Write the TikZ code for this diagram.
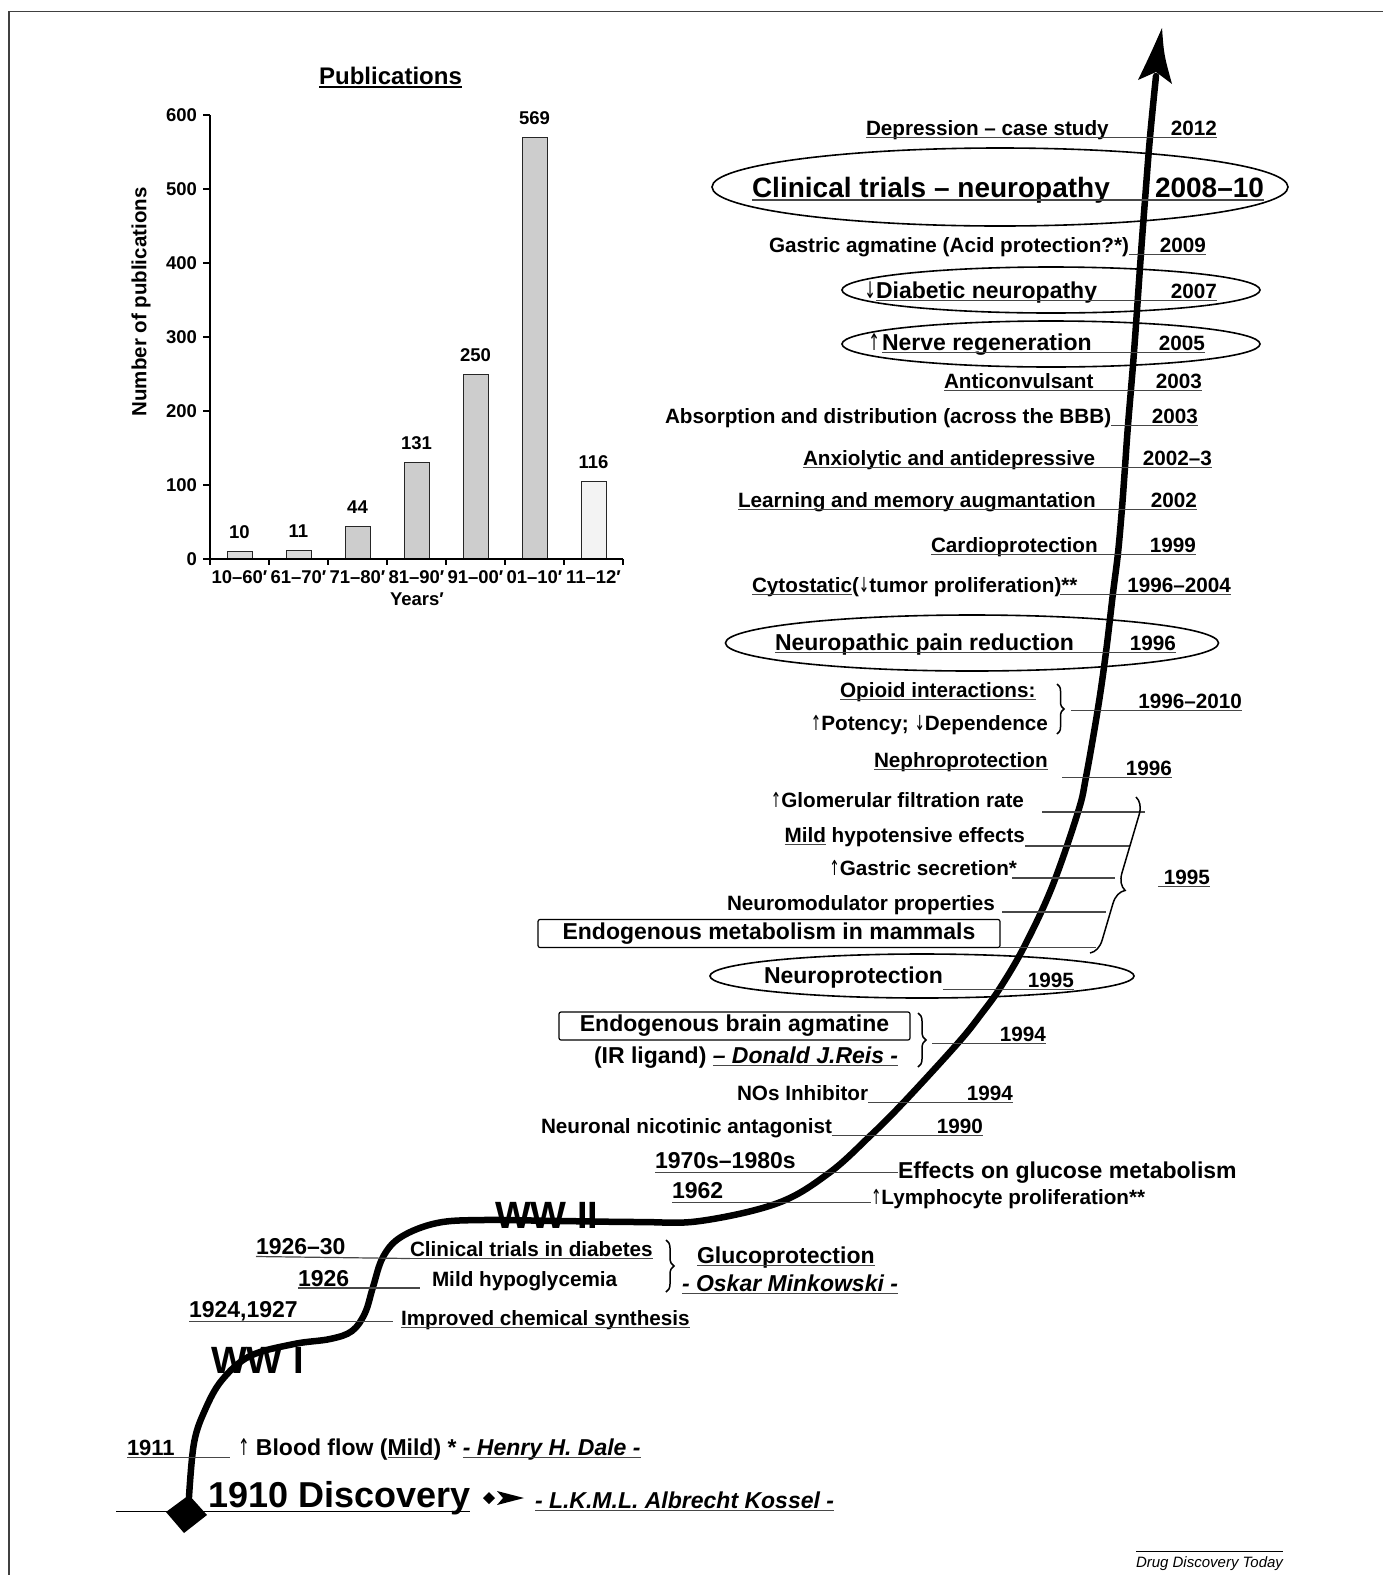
\documentclass[tikz,border=0pt]{standalone}
\usepackage{fontspec}
\setmainfont{Liberation Sans}
\newfontfamily\arrf{DejaVu Sans}
\usetikzlibrary{shapes.geometric,decorations.pathreplacing}
\definecolor{barA}{HTML}{DADADA}
\definecolor{barB}{HTML}{CDCDCD}
\definecolor{barC}{HTML}{F3F3F3}
\newcommand\upar{\scalebox{0.6}[1]{\arrf\mdseries ↑}}
\newcommand\dnar{\scalebox{0.6}[1]{\arrf\mdseries ↓}}
\begin{document}
\begin{tikzpicture}[x=1pt,y=-1pt,
  every node/.style={inner sep=0pt, outer sep=0pt},
  fA/.style={font=\fontsize{20.7}{24}\selectfont\bfseries},
  fB/.style={font=\fontsize{23}{27}\selectfont\bfseries},
  fC/.style={font=\fontsize{28}{32}\selectfont\bfseries},
  fI/.style={font=\fontsize{23}{27}\selectfont\bfseries\itshape},
  fW/.style={font=\fontsize{38}{42}\selectfont\bfseries},
  fD/.style={font=\fontsize{36}{40}\selectfont\bfseries},
  fT/.style={font=\fontsize{18.5}{22}\selectfont\bfseries},
  ul/.style={line width=1.2pt, draw=black!72},
  ring/.style={draw, ellipse, line width=1.6pt},
  lab/.style={anchor=base west}, yr/.style={anchor=base east},
  brc/.style={decorate, line width=1.5pt},
]
\useasboundingbox (0,0) rectangle (1383,1575);
\fill[white] (0,0) rectangle (1383,1575);
% frame
\draw[line width=1.3pt, black!75] (9,1575) -- (9,11.5) -- (1383,11.5);

% ================= bar chart =================
\node[font=\fontsize{24}{28}\selectfont\bfseries, anchor=base] (ptitle) at (390.5,84.5) {Publications};
\draw[ul, black] ([yshift=-2.5pt]ptitle.base west) -- ([yshift=-2.5pt]ptitle.base east);
\foreach \i/\v/\h/\c/\xl in {0/10/10/barA/{10–60′}, 1/11/11/barA/{61–70′}, 2/44/44/barB/{71–80′}, 3/131/131/barB/{81–90′}, 4/250/250/barB/{91–00′}, 5/569/569/barB/{01–10′}, 6/116/105/barC/{11–12′}}
{
  \filldraw[fill=\c, draw=black!85, line width=1pt] ({227+59*\i},559) rectangle ({252+59*\i},{559-0.74*\h});
  \node[fT, anchor=base] (bv\i) at ({239.5+59*\i},{546-0.74*\h}) {\v};
  \node[fT, anchor=base] (bx\i) at ({239.5+59*\i},583) {\xl};
}
\foreach \v in {0,100,...,600}
{
  \draw[line width=1.2pt] (203,{559-0.74*\v}) -- (210,{559-0.74*\v});
  \node[fT, anchor=east] (yt\v) at (197,{559-0.74*\v}) {\v};
}
\foreach \i in {0,...,7} \draw[line width=1.2pt] ({210+59*\i},559) -- ({210+59*\i},565);
\draw[line width=1.2pt] (210,115) -- (210,559) -- (623,559);
\node[fT, anchor=base] (yrs) at (417,605) {Years′};
\node[font=\fontsize{20.5}{24}\selectfont\bfseries, rotate=90] (ylab) at (141,302) {Number of publications};

% ================= timeline curve =================
\draw[line width=6.5pt, line cap=round, line join=round] plot[smooth, tension=0.6] coordinates {(189,1497) (194,1443) (205,1410) (222,1380) (250,1356) (294,1344) (330,1339) (352,1331) (365,1313) (373,1287) (383,1257) (401,1237) (437,1223) (483,1220) (560,1221) (640,1222) (700,1221) (778,1203) (829,1173) (870,1136) (903,1103) (958,1043) (982,1013) (1000,988) (1024,947) (1052,887) (1078,812) (1086,777) (1098,708) (1106,652) (1113,593) (1118,553) (1122,508) (1125,467) (1128,425) (1134,352) (1141,253) (1145,200) (1150,137) (1156,76)};
\fill (1162,28) .. controls (1164,55) .. (1172,84) -- (1156,72) -- (1138,80) .. controls (1150,55) .. (1162,28) -- cycle;
\fill (166,1512) -- (189,1495) -- (207,1515) -- (184,1533) -- cycle;

% helper positions
\coordinate (x1071) at (1071,0);
\coordinate (x1062) at (1062,0);
\coordinate (x1158) at (1158,0);
\coordinate (x932) at (932,0);
\coordinate (x116) at (116,0);
\coordinate (y1551) at (0,1551);

% ================= labels =================
% 2012
\node[fA, lab] (t1) at (866,135) {Depression – case study};
\node[fA, yr] (y1) at (1217,135) {2012};
\draw[ul] ([yshift=-2.5pt]t1.base west) -- ([yshift=-2.5pt]y1.base east);
% 2008-10
\node[ring, minimum width=576pt, minimum height=78pt] (e2) at (1000,187) {};
\node[fC, lab] (t2) at (752,197) {Clinical trials – neuropathy};
\node[fC, yr] (y2) at (1264,197) {2008–10};
\draw[ul] ([yshift=-3pt]t2.base west) -- ([yshift=-3pt]y2.base east);
% 2009
\node[fA, lab] (t3) at (769,252) {Gastric agmatine (Acid protection?*)};
\node[fA, yr] (y3) at (1206,252) {2009};
\draw[ul] ([yshift=-2.5pt]t3.base east) -- ([yshift=-2.5pt]y3.base east);
% 2007
\node[ring, minimum width=418pt, minimum height=46pt] (e4) at (1051,290) {};
\node[fB, lab] (t4) at (876,298) {Diabetic neuropathy};
\node[fB, anchor=base east] (a4) at ([xshift=0pt]t4.base west) {\dnar};
\node[fA, yr] (y4) at (1217,298) {2007};
\draw[ul] ([yshift=-2.5pt]t4.base west) -- ([yshift=-2.5pt]y4.base east);
% 2005
\node[ring, minimum width=418pt, minimum height=46pt] (e5) at (1051,344) {};
\node[fB, lab] (t5) at (882,350) {Nerve regeneration};
\node[fB, anchor=base east] (a5) at ([xshift=-2pt]t5.base west) {\upar};
\node[fA, yr] (y5) at (1205,350) {2005};
\draw[ul] ([yshift=-2.5pt]t5.base west) -- ([yshift=-2.5pt]y5.base east);
% 2003
\node[fA, lab] (t6) at (944,388) {Anticonvulsant};
\node[fA, yr] (y6) at (1202,388) {2003};
\draw[ul] ([yshift=-2.5pt]t6.base west) -- ([yshift=-2.5pt]y6.base east);
% 2003 BBB
\node[fA, lab] (t7) at (665,423) {Absorption and distribution (across the BBB)};
\node[fA, yr] (y7) at (1198,423) {2003};
\draw[ul] ([yshift=-2.5pt]t7.base east) -- ([yshift=-2.5pt]y7.base east);
% 2002-3
\node[fA, lab] (t8) at (803,465) {Anxiolytic and antidepressive};
\node[fA, yr] (y8) at (1212,465) {2002–3};
\draw[ul] ([yshift=-2.5pt]t8.base west) -- ([yshift=-2.5pt]y8.base east);
% 2002
\node[fA, lab] (t9) at (738,507) {Learning and memory augmantation};
\node[fA, yr] (y9) at (1197,507) {2002};
\draw[ul] ([yshift=-2.5pt]t9.base west) -- ([yshift=-2.5pt]y9.base east);
% 1999
\node[fA, lab] (t10) at (931,552) {Cardioprotection};
\node[fA, yr] (y10) at (1196,552) {1999};
\draw[ul] ([yshift=-2.5pt]t10.base west) -- ([yshift=-2.5pt]y10.base east);
% 1996-2004
\node[fA, lab] (t11) at (752,592) {Cytostatic};
\node[fA, lab] (t11b) at (t11.base east) {(\dnar tumor proliferation)**};
\node[fA, yr] (y11) at (1231,592) {1996–2004};
\draw[ul] ([yshift=-2.5pt]t11.base west) -- ([yshift=-2.5pt]t11.base east);
\draw[ul] ([xshift=-18pt,yshift=-2.5pt]t11b.base east) -- ([yshift=-2.5pt]y11.base east);
% 1996 neuropathic pain
\node[ring, minimum width=493pt, minimum height=56pt] (e12) at (972,643) {};
\node[fB, lab] (t12) at (775,650) {Neuropathic pain reduction};
\node[fA, yr] (y12) at (1176,650) {1996};
\draw[ul] ([yshift=-2.5pt]t12.base west) -- ([yshift=-2.5pt]y12.base east);
% 1996-2010 opioid
\node[fA, lab] (t13) at (840,697) {Opioid interactions:};
\draw[ul] ([yshift=-2.5pt]t13.base west) -- ([yshift=-2.5pt]t13.base east);
\node[fA, yr] (t13b) at (1048,730) {\upar Potency; \dnar Dependence};
\draw[brc, decoration={brace, amplitude=7pt}] (1057,684) -- (1057,734);
\node[fA, yr] (y13) at (1242,708) {1996–2010};
\coordinate (c13) at ([yshift=-2.5pt]y13.base east);
\draw[ul] (x1071 |- c13) -- (c13);
% 1996 nephro
\node[fA, lab] (t14) at (874,767) {Nephroprotection};
\draw[ul] ([yshift=-2.5pt]t14.base west) -- ([yshift=-2.5pt]t14.base east);
\node[fA, yr] (y14) at (1172,775) {1996};
\coordinate (c14) at ([yshift=-2.5pt]y14.base east);
\draw[ul] (x1062 |- c14) -- (c14);
% 1995 group
\node[fA, yr] (g1) at (1024,807) {\upar Glomerular filtration rate};
\draw[ul] (1042,812) -- (1145,812);
\node[fA, yr] (g2b) at (1025,842) {hypotensive effects};
\node[fA, yr] (g2a) at ([xshift=-5.75pt]g2b.base west) {Mild};
\draw[ul] ([yshift=-2.5pt]g2a.base west) -- ([yshift=-2.5pt]g2a.base east);
\draw[ul] (1025,846) -- (1130,846);
\node[fA, yr] (g3) at (1017,875) {\upar Gastric secretion*};
\draw[ul] (1012,878) -- (1115,878);
\node[fA, yr] (g4) at (995,910) {Neuromodulator properties};
\draw[ul] (1002,912) -- (1106,912);
\node[fB, draw, line width=1.2pt, rounded corners=2pt, minimum width=462pt, minimum height=28pt] (g5) at (769,933.5) {Endogenous metabolism in mammals};
\draw[ul] (g5.south east) -- ++(96,0);
\draw[brc, decoration={brace, amplitude=16pt, aspect=0.57}] (1136,797) -- (1090,953);
\node[fA, yr] (y15) at (1210,884) {1995};
\coordinate (c15) at ([yshift=-2.5pt]y15.base east);
\draw[ul] (x1158 |- c15) -- (c15);
% 1995 neuroprotection
\node[ring, minimum width=424pt, minimum height=44pt] (e16) at (922,976) {};
\node[fB, lab] (t16) at (764,983) {Neuroprotection};
\node[fA, yr] (y16) at (1074,987) {1995};
\coordinate (c16) at ([yshift=-2.5pt]y16.base east);
\draw[ul] (t16.east |- c16) -- (c16);
% 1994 brain agmatine
\node[fB, draw, line width=1.2pt, rounded corners=2pt, minimum width=351pt, minimum height=28pt] (t17) at (734.5,1026) {Endogenous brain agmatine};
\node[fB, lab] (t17b) at (594,1063) {(IR ligand)};
\node[fI, lab] (t17c) at ([xshift=6.4pt]t17b.base east) {– Donald J.Reis -};
\draw[ul] ([yshift=-2.5pt]t17c.base west) -- ([yshift=-2.5pt]t17c.base east);
\draw[brc, decoration={brace, amplitude=8pt}] (918,1013) -- (918,1067);
\node[fA, yr] (y17) at (1046,1041) {1994};
\coordinate (c17) at ([yshift=-2.5pt]y17.base east);
\draw[ul] (x932 |- c17) -- (c17);
% 1994 NOs
\node[fA, lab] (t18) at (737,1100) {NOs Inhibitor};
\node[fA, yr] (y18) at (1013,1100) {1994};
\draw[ul] ([yshift=-2.5pt]t18.base east) -- ([yshift=-2.5pt]y18.base east);
% 1990
\node[fA, lab] (t19) at (541,1133) {Neuronal nicotinic antagonist};
\node[fA, yr] (y19) at (983,1133) {1990};
\draw[ul] ([yshift=-2.5pt]t19.base east) -- ([yshift=-2.5pt]y19.base east);
% 1970s-1980s
\node[fB, lab] (t20) at (655,1168) {1970s–1980s};
\node[fB, lab] (t20b) at (898,1178) {Effects on glucose metabolism};
\coordinate (c20) at ([yshift=-4.5pt]t20.base west);
\draw[ul] (c20) -- (c20 -| t20b.base west);
% 1962
\node[fB, lab] (t21) at (672,1198) {1962};
\node[fA, lab] (t21b) at (871,1204) {\upar Lymphocyte proliferation**};
\coordinate (c21) at ([yshift=-4.5pt]t21.base west);
\draw[ul] (c21) -- (c21 -| t21b.base west);
% WW II
\node[fW, lab] (ww2) at (495,1228) {WW II};
% 1926-30
\node[fB, lab] (t23) at (256,1254) {1926–30};
\node[fA, lab] (t23b) at (410,1256) {Clinical trials in diabetes};
\draw[ul] ([yshift=-2.5pt]t23.base west) -- ([yshift=-2.5pt]t23b.base west);
\draw[ul] ([yshift=-2.5pt]t23b.base west) -- ([yshift=-2.5pt]t23b.base east);
% 1926
\node[fB, lab] (t24) at (298,1286) {1926};
\node[fA, lab] (t24b) at (432,1286) {Mild hypoglycemia};
\draw[ul] ([yshift=-2pt]t24.base west) -- ([xshift=-12pt,yshift=-2pt]t24b.base west);
\draw[brc, decoration={brace, amplitude=8pt}] (666,1240) -- (666,1292);
\node[fB, lab] (gp) at (697,1263) {Glucoprotection};
\draw[ul] ([yshift=-2.5pt]gp.base west) -- ([yshift=-2.5pt]gp.base east);
\node[fI, lab] (om) at (682,1291) {- Oskar Minkowski -};
\draw[ul] ([yshift=-2.5pt]om.base west) -- ([yshift=-2.5pt]om.base east);
% 1924,1927
\node[fB, lab] (t25) at (189,1317) {1924,1927};
\node[fA, lab] (t25b) at (401,1325) {Improved chemical synthesis};
\coordinate (c25) at ([yshift=-4.5pt]t25.base west);
\coordinate (c25e) at ([xshift=-8pt]t25b.base west);
\draw[ul] (c25) -- (c25 -| c25e);
\draw[ul] ([yshift=-2.5pt]t25b.base west) -- ([yshift=-2.5pt]t25b.base east);
% WW I
\node[fW, lab] (ww1) at (211,1373) {WW I};
% 1911
\node[font=\fontsize{22}{26}\selectfont\bfseries, lab] (t27) at (127,1455) {1911};
\draw[ul] ([yshift=-2.5pt]t27.base west) -- ++(103,0);
\node[fB, lab] (b1) at (238,1455) {\upar\ Blood flow (};
\node[fB, lab] (b2) at (b1.base east) {Mild};
\node[fB, lab] (b3) at (b2.base east) {) *};
\node[fI, lab] (b4) at ([xshift=6.4pt]b3.base east) {- Henry H. Dale -};
\draw[ul] ([yshift=-2.5pt]b2.base west) -- ([yshift=-2.5pt]b2.base east);
\draw[ul] ([yshift=-2.5pt]b4.base west) -- ([yshift=-2.5pt]b4.base east);
% 1910
\node[fD, lab] (t28) at (208,1507) {1910 Discovery};
\coordinate (c28) at ([yshift=-4.5pt]t28.base east);
\draw[ul, black] (x116 |- c28) -- (c28);
\fill (483,1498) -- (489,1492) -- (495,1498) -- (489,1504) -- cycle;
\fill (497,1491) -- (524,1498) -- (497,1505) -- (503,1498) -- cycle;
\node[fI, lab] (t28b) at (535,1508) {- L.K.M.L. Albrecht Kossel -};
\draw[ul] ([yshift=-2.5pt]t28b.base west) -- ([yshift=-2.5pt]t28b.base east);
% credit
\node[font=\fontsize{15}{18}\selectfont\itshape, yr] (cred) at (1283,1567) {Drug Discovery Today};
\draw[line width=1pt] (cred.west |- y1551) -- (cred.east |- y1551);
\end{tikzpicture}
\end{document}
